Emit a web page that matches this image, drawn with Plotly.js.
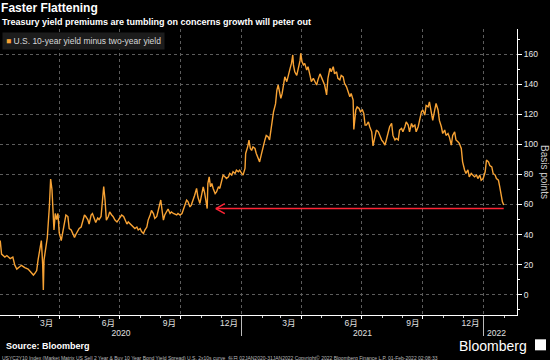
<!DOCTYPE html>
<html>
<head>
<meta charset="utf-8">
<script src="https://cdn.plot.ly/plotly-3.0.1.min.js"></script>
<style>html,body{margin:0;padding:0;background:#000;}#chart{width:550px;height:360px;}</style>
</head>
<body>
<div id="chart"></div>
<script>
// ---- data ----
const dates = [
"2020-01-02","2020-01-03","2020-01-05","2020-01-10","2020-01-13","2020-01-18","2020-01-22","2020-01-25","2020-01-28","2020-01-31",
"2020-02-04","2020-02-09","2020-02-14","2020-02-18","2020-02-22","2020-02-24","2020-02-27","2020-02-29","2020-03-03","2020-03-05",
"2020-03-07","2020-03-08","2020-03-09","2020-03-12","2020-03-14","2020-03-17","2020-03-19","2020-03-21","2020-03-22","2020-03-24",
"2020-03-26","2020-03-28","2020-03-30","2020-04-01","2020-04-04","2020-04-06","2020-04-09","2020-04-11","2020-04-14","2020-04-16",
"2020-04-19","2020-04-21","2020-04-24","2020-04-26","2020-04-29","2020-05-01","2020-05-04","2020-05-06","2020-05-09","2020-05-11",
"2020-05-14","2020-05-16","2020-05-19","2020-05-21","2020-05-24","2020-05-26","2020-05-29","2020-05-31","2020-06-03","2020-06-05",
"2020-06-07","2020-06-09","2020-06-11","2020-06-14","2020-06-16","2020-06-19","2020-06-21","2020-06-24","2020-06-27","2020-06-29",
"2020-07-02","2020-07-04","2020-07-07","2020-07-09","2020-07-12","2020-07-14","2020-07-17","2020-07-19","2020-07-22","2020-07-24",
"2020-07-27","2020-07-29","2020-08-01","2020-08-03","2020-08-06","2020-08-08","2020-08-11","2020-08-13","2020-08-16","2020-08-18",
"2020-08-21","2020-08-23","2020-08-26","2020-08-28","2020-08-31","2020-09-01","2020-09-03","2020-09-05","2020-09-07","2020-09-10",
"2020-09-12","2020-09-15","2020-09-17","2020-09-20","2020-09-22","2020-09-25","2020-09-27","2020-09-30","2020-10-03","2020-10-05",
"2020-10-07","2020-10-10","2020-10-12","2020-10-15","2020-10-17","2020-10-20","2020-10-22","2020-10-25","2020-10-27","2020-10-30",
"2020-11-02","2020-11-04","2020-11-06","2020-11-09","2020-11-10","2020-11-11","2020-11-13","2020-11-15","2020-11-17","2020-11-19",
"2020-11-22","2020-11-24","2020-11-27","2020-11-29","2020-12-02","2020-12-04","2020-12-07","2020-12-09","2020-12-12","2020-12-14",
"2020-12-17","2020-12-19","2020-12-22","2020-12-24","2020-12-27","2020-12-29","2021-01-01","2021-01-03","2021-01-06","2021-01-07",
"2021-01-10","2021-01-12","2021-01-14","2021-01-16","2021-01-18","2021-01-21","2021-01-23","2021-01-26","2021-01-28","2021-01-31",
"2021-02-02","2021-02-05","2021-02-07","2021-02-10","2021-02-12","2021-02-15","2021-02-17","2021-02-18","2021-02-21","2021-02-23",
"2021-02-25","2021-02-27","2021-03-01","2021-03-03","2021-03-05","2021-03-07","2021-03-10","2021-03-12","2021-03-15","2021-03-17",
"2021-03-19","2021-03-20","2021-03-22","2021-03-25","2021-03-27","2021-03-30","2021-03-31","2021-04-02","2021-04-04","2021-04-06",
"2021-04-09","2021-04-11","2021-04-14","2021-04-16","2021-04-19","2021-04-21","2021-04-24","2021-04-26","2021-04-29","2021-05-01",
"2021-05-04","2021-05-06","2021-05-09","2021-05-11","2021-05-14","2021-05-16","2021-05-19","2021-05-21","2021-05-24","2021-05-26",
"2021-05-29","2021-05-31","2021-06-03","2021-06-05","2021-06-08","2021-06-10","2021-06-13","2021-06-15","2021-06-18","2021-06-19",
"2021-06-22","2021-06-24","2021-06-27","2021-06-29","2021-07-02","2021-07-04","2021-07-06","2021-07-08","2021-07-11","2021-07-13",
"2021-07-16","2021-07-18","2021-07-21","2021-07-23","2021-07-26","2021-07-28","2021-07-31","2021-08-02","2021-08-05","2021-08-07",
"2021-08-10","2021-08-12","2021-08-15","2021-08-17","2021-08-20","2021-08-22","2021-08-25","2021-08-27","2021-08-30","2021-09-01",
"2021-09-04","2021-09-06","2021-09-09","2021-09-11","2021-09-14","2021-09-16","2021-09-19","2021-09-21","2021-09-24","2021-09-26",
"2021-09-29","2021-10-01","2021-10-04","2021-10-06","2021-10-09","2021-10-11","2021-10-14","2021-10-16","2021-10-19","2021-10-21",
"2021-10-24","2021-10-26","2021-10-29","2021-10-31","2021-11-03","2021-11-05","2021-11-08","2021-11-10","2021-11-13","2021-11-15",
"2021-11-18","2021-11-20","2021-11-23","2021-11-25","2021-11-28","2021-11-30","2021-12-03","2021-12-05","2021-12-08","2021-12-10",
"2021-12-13","2021-12-15","2021-12-18","2021-12-21","2021-12-23","2021-12-26","2021-12-28","2021-12-31","2022-01-03","2022-01-05",
"2022-01-08","2022-01-10","2022-01-13","2022-01-15","2022-01-18","2022-01-20","2022-01-23","2022-01-25","2022-01-27","2022-01-29",
"2022-01-31"
];
const spread = [
32,36,27,25,26,24,25,19.5,17,18,
19.5,18,17,15,13,14,16,23,32,36,
20,3,23,32,38,58,77,70,56,43,
54,50,54,41,36,41,47,53,52,44,
43,41,38,40,43,44,45,48,53,52,
50,47,53,54,50,48,51,50,52,63,
72,63,49.6,52,55,53,52,49.6,48.4,49.6,
52,53,52,49.6,47,48.4,47,46,45,44,
45,43,44,42,40.7,43,45,49.6,53,56,
54,50.7,52,56,60.7,63,56,49.6,53,56,
57,54,55,54,53.6,53,54,53,54,57,
59.6,63,62,58.4,59.6,63,66,70.7,65,60.7,
68.4,71.8,68,60.7,57.3,74,78.4,71.8,74,70.7,
67.3,68.4,71.8,70.7,76,79.6,78.4,77.3,78.4,80.7,
79.6,81.8,80.7,82.9,81.8,82.9,80.7,79.6,84,94,
98.4,102.9,97.3,96,98.4,97.3,94,90.7,88.4,94,
98.4,103,106,105,103,112,118.4,121.8,127,136,
139.6,136,130.7,134,139.6,145,141.8,146,150.7,154,
159.6,153,148.4,146,149.6,156,160.7,155,153,154,
149.6,151.8,146,141.8,144,141.8,139.6,143,147,145,
141.8,139.6,133,144,150.7,148.4,151.8,147,148.4,144,
143,146,145,140.7,138.4,135,131.8,134,129.6,110,
123,125,124,121.8,123,120.7,112.9,112.9,115,111.8,
108.4,99,106,109.6,108.4,106,102.9,101.8,99.6,103,
108.4,111.8,114,106,103,104,103,109.6,110.7,108.4,
111.8,115,112.9,108.4,114,111.8,112.9,108.4,111.8,116,
121.8,123,119.6,126,125,128.4,121.8,116,123,127.3,
123,116,111.8,107.3,109.6,106,107.3,105,99.6,106,
108.4,103,101.8,100.7,97.3,88.4,83,80.7,83,78.4,
80.7,79.6,78.4,79.6,77.3,79.6,76.2,77.3,81.8,89.6,
88.4,86,85,80.7,79.6,77.3,76.2,71.8,65,61.8,
59.6
];
const seriesName = "U.S. 10-year yield minus two-year yield";
const monthTickDates = ["2020-03-13","2020-06-14","2020-09-14","2020-12-13","2021-03-13","2021-06-15","2021-09-16","2021-12-12"];
const monthTickLabels = ["3月","6月","9月","12月","3月","6月","9月","12月"];
const yearTickDates = ["2020-07-03","2021-07-02","2022-01-20"];
const yearTickLabels = ["2020","2021","2022"];
const yearDividers = ["2021-01-01","2022-01-01"];
const arrowLevel = 57.3;
const arrowTip = "2020-11-23";
const arrowTail = "2022-01-31";

const xRange = ["2020-01-02 16:00","2022-02-20"];
const yRange = [-13.6, 176.9];
const FONT = "Liberation Sans, Arial, Noto Sans CJK SC, sans-serif";
const ORANGE = "#f7a234";
const RED = "#ff2436";

const traces = [
  {type:"scatter", mode:"lines", x:dates, y:spread, name:seriesName,
   line:{color:ORANGE, width:1.4}, hoverinfo:"skip"},
  {type:"scatter", x:[], y:[], xaxis:"x2", showlegend:false, hoverinfo:"skip"},
  {type:"scatter", x:[], y:[], xaxis:"x3", showlegend:false, hoverinfo:"skip"},
  {type:"scatter", x:[], y:[], xaxis:"x4", showlegend:false, hoverinfo:"skip"}
];

const layout = {
  width:550, height:360,
  margin:{l:0, r:33, t:29, b:45},
  paper_bgcolor:"#000000", plot_bgcolor:"#000000",
  showlegend:false,
  font:{family:FONT, color:"#e6e6e6"},
  title:{text:"<b>Faster Flattening</b>", x:0.002, xref:"container", xanchor:"left",
         y:1-7.7/360, yref:"container", yanchor:"middle",
         font:{family:FONT, size:12, color:"#ffffff"}},
  xaxis:{type:"date", range:xRange, tick0:"2020-01-01", dtick:"M3",
         showgrid:true, gridcolor:"#5c5c5c", griddash:"dot", gridwidth:1,
         ticks:"outside", ticklen:3, tickcolor:"#ffffff", showticklabels:false,
         showline:true, linecolor:"#ffffff", linewidth:1, zeroline:false,
         minor:{dtick:"M1", ticks:"outside", ticklen:2, tickcolor:"#cccccc", showgrid:false}},
  xaxis2:{type:"date", overlaying:"x", range:xRange, tickmode:"array",
          tickvals:monthTickDates, ticktext:monthTickLabels, ticks:"", showgrid:false,
          showline:false, zeroline:false, ticklabelstandoff:1,
          tickfont:{family:FONT, size:8.5, color:"#e0e0e0"}},
  xaxis3:{type:"date", overlaying:"x", range:xRange, tickmode:"array",
          tickvals:yearTickDates, ticktext:yearTickLabels, ticks:"", showgrid:false,
          showline:false, zeroline:false, ticklabelstandoff:11,
          tickfont:{family:FONT, size:8.5, color:"#e0e0e0"}},
  xaxis4:{type:"date", overlaying:"x", range:xRange, tickmode:"array",
          tickvals:yearDividers, ticks:"outside", ticklen:20, tickcolor:"#bbbbbb",
          showticklabels:false, showgrid:false, showline:false, zeroline:false},
  yaxis:{side:"right", range:yRange, tick0:0, dtick:20,
         showgrid:true, gridcolor:"#5c5c5c", griddash:"dot", gridwidth:1, zeroline:false,
         showline:true, linecolor:"#ffffff", linewidth:1,
         ticks:"outside", ticklen:4, tickcolor:"#ffffff",
         tickfont:{family:FONT, size:8.5, color:"#e6e6e6"},
         minor:{dtick:10, ticks:"outside", ticklen:2, tickcolor:"#ffffff", showgrid:false}},
  shapes:[
    {type:"line", xref:"x", yref:"y", x0:arrowTip, x1:arrowTail, y0:arrowLevel, y1:arrowLevel,
     line:{color:RED, width:1.5}},
    {type:"line", xref:"x", yref:"y", xsizemode:"pixel", xanchor:arrowTip, x0:0, x1:9,
     ysizemode:"pixel", yanchor:arrowLevel, y0:0, y1:5, line:{color:RED, width:1.5}},
    {type:"line", xref:"x", yref:"y", xsizemode:"pixel", xanchor:arrowTip, x0:0, x1:9,
     ysizemode:"pixel", yanchor:arrowLevel, y0:0, y1:-5, line:{color:RED, width:1.5}},
    {type:"rect", xref:"paper", yref:"paper", x0:535/517, x1:546/517,
     y0:(314.7-350)/285.7, y1:(314.7-339)/285.7, fillcolor:"#ffffff", line:{width:0}}
  ],
  annotations:[
    {text:"<b>Treasury yield premiums are tumbling on concerns growth will peter out</b>",
     xref:"paper", yref:"paper", x:0, y:(314.7-21.7)/285.7, xanchor:"left", yanchor:"middle",
     showarrow:false, font:{family:FONT, size:9, color:"#ffffff"}},
    {text:'<span style="color:'+ORANGE+'">■</span> '+seriesName,
     xref:"paper", yref:"paper", x:0.004, y:(314.7-31.5)/285.7, xanchor:"left", yanchor:"top",
     showarrow:false, bgcolor:"#1c1c1c", borderpad:3, align:"left",
     font:{family:FONT, size:8.5, color:"#d8d8d8"}},
    {text:"Basis points", textangle:90, xref:"paper", yref:"paper", x:545/517, y:0.5,
     xanchor:"center", yanchor:"middle", showarrow:false,
     font:{family:FONT, size:10, color:"#cccccc"}},
    {text:"<b>Source: Bloomberg</b>", xref:"paper", yref:"paper", x:3.5/517, y:(314.7-346)/285.7,
     xanchor:"left", yanchor:"middle", showarrow:false, font:{family:FONT, size:9, color:"#ffffff"}},
    {text:"USYC2Y10 Index (Market Matrix US Sell 2 Year & Buy 10 Year Bond Yield Spread) U.S. 2x10s curve  每日 02JAN2020-31JAN2022 Copyright© 2022 Bloomberg Finance L.P. 01-Feb-2022 02:08:33",
     xref:"paper", yref:"paper", x:0, y:(314.7-357.7)/285.7, xanchor:"left", yanchor:"middle",
     showarrow:false, font:{family:FONT, size:5, color:"#bbbbbb"}},
    {text:"Bloomberg", xref:"paper", yref:"paper", x:458/517, y:(314.7-346)/285.7,
     xanchor:"left", yanchor:"middle", showarrow:false, borderpad:0,
     font:{family:FONT, size:14, color:"#ffffff"}}
  ]
};

Plotly.newPlot("chart", traces, layout, {staticPlot:true, displayModeBar:false});
</script>
</body>
</html>
